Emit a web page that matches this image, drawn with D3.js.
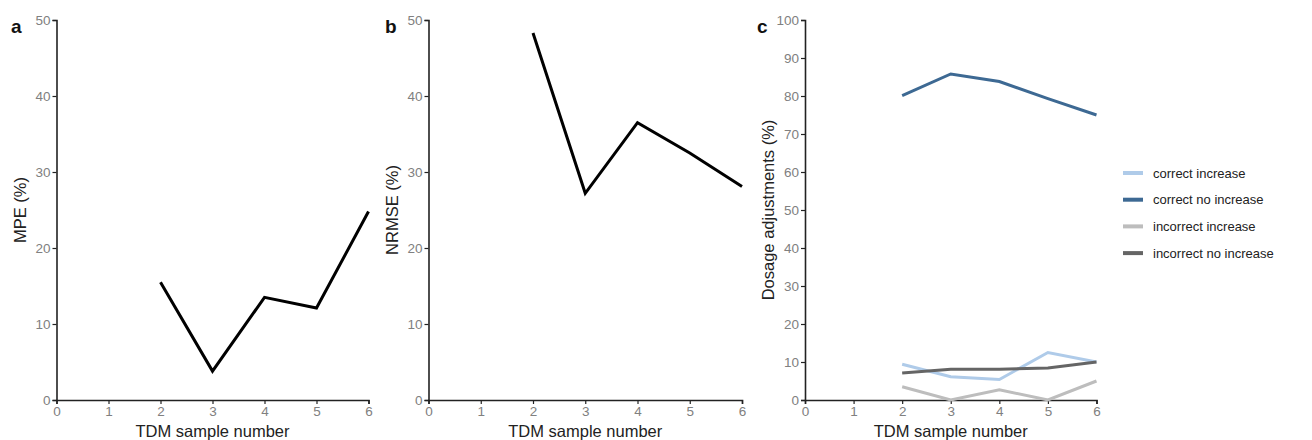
<!DOCTYPE html>
<html><head><meta charset="utf-8">
<script src="https://cdn.jsdelivr.net/npm/d3@7"></script>
<style>body{margin:0;background:#fff;font-family:"Liberation Sans",Arial,sans-serif;}</style>
</head><body><svg id="c" width="1312" height="440"></svg>
<script>
const samples = [2, 3, 4, 5, 6];
const mpe = [15.5, 3.8, 13.5, 12.1, 24.8];
const nrmse = [48.3, 27.2, 36.5, 32.5, 28.1];
const correctIncrease = [9.4, 6.1, 5.4, 12.5, 10.0];
const correctNoIncrease = [80.1, 85.8, 83.8, 79.3, 75.0];
const incorrectIncrease = [3.5, 0.0, 2.7, 0.0, 5.0];
const incorrectNoIncrease = [7.1, 8.1, 8.1, 8.4, 10.0];
const seriesNames = ["correct increase", "correct no increase", "incorrect increase", "incorrect no increase"];
const seriesColors = ["#afcbe9", "#3d6993", "#bdbdbd", "#656565"];
const xTicks = [0, 1, 2, 3, 4, 5, 6];
const yTicksAB = [0, 10, 20, 30, 40, 50];
const yTicksC = [0, 10, 20, 30, 40, 50, 60, 70, 80, 90, 100];

const svg = d3.select("#c");
const plotTop = 20, plotBottom = 400;

function panel(opts) {
  const g = svg.append("g");
  const x = d3.scaleLinear().domain([0, 6]).range([opts.x0, opts.x1]);
  const y = d3.scaleLinear().domain([0, opts.ymax]).range([plotBottom, plotTop]);
  const xa = g.append("g").attr("transform", `translate(0,${plotBottom})`)
    .call(d3.axisBottom(x).tickValues(xTicks).tickFormat(d3.format("d")).tickSizeOuter(0).tickSize(4));
  const ya = g.append("g").attr("transform", `translate(${opts.x0},0)`)
    .call(d3.axisLeft(y).tickValues(opts.yTicks).tickFormat(d3.format("d")).tickSizeOuter(0).tickSize(4));
  [xa, ya].forEach(a => {
    a.select(".domain").attr("stroke", "#222").attr("stroke-width", 1.6);
    a.selectAll(".tick line").attr("stroke", "#222").attr("stroke-width", 1.2);
    a.selectAll(".tick text").attr("fill", "#808080").style("font-size", "13.5px").style("font-family", "Liberation Sans, Arial, sans-serif");
  });
  xa.selectAll(".tick text").attr("dy", "0.75em").attr("y", 6);
  ya.selectAll(".tick text").attr("x", -6);
  g.append("text").attr("x", (opts.x0 + opts.x1) / 2).attr("y", 437)
    .attr("text-anchor", "middle").attr("fill", "#222").style("font-size", "16.5px").text("TDM sample number");
  g.append("text").attr("transform", `translate(${opts.x0 - 31},${(plotTop + plotBottom) / 2}) rotate(-90)`)
    .attr("text-anchor", "middle").attr("fill", "#222").style("font-size", "16.5px").text(opts.ylab);
  g.append("text").attr("x", opts.lx).attr("y", 33).attr("fill", "#111")
    .style("font-size", "19px").style("font-weight", "bold").text(opts.letter);
  const line = d3.line().x((d, i) => x(samples[i])).y(d => y(d));
  opts.series.forEach(s => {
    g.append("path").datum(s.values).attr("d", line).attr("fill", "none")
      .attr("stroke", s.color).attr("stroke-width", s.w).attr("stroke-linejoin", "miter");
  });
  return g;
}

panel({x0: 56.5, x1: 368.5, ymax: 50, yTicks: yTicksAB, ylab: "MPE (%)", letter: "a", lx: 11,
  series: [{values: mpe, color: "#000", w: 3}]});
panel({x0: 428.5, x1: 742, ymax: 50, yTicks: yTicksAB, ylab: "NRMSE (%)", letter: "b", lx: 385,
  series: [{values: nrmse, color: "#000", w: 3}]});
const sc = [correctIncrease, correctNoIncrease, incorrectIncrease, incorrectNoIncrease];
panel({x0: 805, x1: 1096.5, ymax: 100, yTicks: yTicksC, ylab: "Dosage adjustments (%)", letter: "c", lx: 757,
  series: sc.map((v, i) => ({values: v, color: seriesColors[i], w: 3}))});

const leg = svg.append("g").attr("transform", "translate(1123,173)");
seriesNames.forEach((n, i) => {
  const r = leg.append("g").attr("transform", `translate(0,${i * 26.7})`);
  r.append("line").attr("x1", 0).attr("x2", 20).attr("y1", 0).attr("y2", 0)
    .attr("stroke", seriesColors[i]).attr("stroke-width", 4);
  r.append("text").attr("x", 30).attr("y", 0).attr("dy", "0.35em").attr("fill", "#222")
    .style("font-size", "13px").text(n);
});
</script></body></html>
